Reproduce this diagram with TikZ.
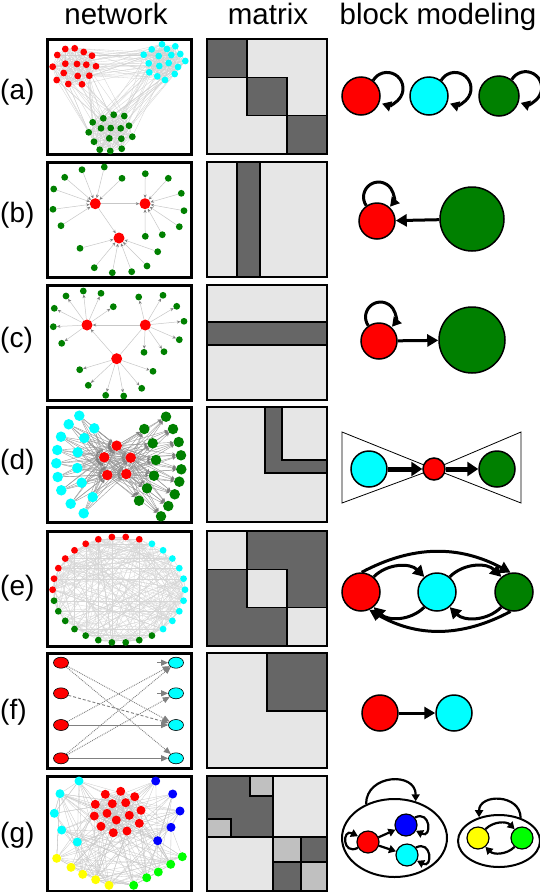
\documentclass[tikz,border=0pt]{standalone}
\usepackage{fontspec}
\setmainfont{Liberation Sans}
\usetikzlibrary{arrows.meta,shapes.geometric}
\definecolor{nred}{RGB}{255,0,0}
\definecolor{ncyan}{RGB}{0,255,255}
\definecolor{ngreen}{RGB}{0,128,0}
\definecolor{nblue}{RGB}{0,0,255}
\definecolor{nyellow}{RGB}{255,255,0}
\definecolor{nlime}{RGB}{0,255,0}
\definecolor{mdark}{RGB}{102,102,102}
\definecolor{mlight}{RGB}{230,230,230}
\definecolor{mmid}{RGB}{192,192,192}
\pgfdeclarelayer{back}
\pgfdeclarelayer{bg}
\pgfsetlayers{back,bg,main}
\newcommand\myrandedges[6]{%
  \foreach \k in {1,...,#1}{%
    \pgfmathrandominteger{\rpa}{1}{#3}%
    \pgfmathrandominteger{\rpb}{1}{#5}%
    \ifnum\rpa=\rpb\relax\else\draw[#6] (#2\rpa) -- (#4\rpb);\fi}}
\newcommand\myallpairs[3]{%
  \foreach \ia in {1,...,#2}{\foreach \ib in {1,...,#2}{%
    \ifnum\ia<\ib\relax\draw[#3] (#1\ia) -- (#1\ib);\fi}}}
\begin{document}
\begin{tikzpicture}[x=1pt,y=1pt,
  hdr/.style={font=\fontsize{29.5}{32}\selectfont, anchor=base, inner sep=0},
  rowlab/.style={font=\fontsize{28}{30}\selectfont, anchor=base west, inner sep=0},
  panel/.style={draw=black, line width=3pt},
  mborder/.style={draw=black, line width=1.5pt},
  mcell/.style={draw=black, line width=1.2pt},
  dotA/.style={circle, inner sep=0, minimum size=6.8pt},
  dotB/.style={circle, inner sep=0, minimum size=6.8pt, fill=ngreen},
  dotR/.style={circle, inner sep=0, minimum size=11pt, fill=nred},
  dotD/.style={circle, inner sep=0, minimum size=10.5pt},
  dotG/.style={circle, inner sep=0, minimum size=9pt},
  dotF/.style={ellipse, draw=black, line width=0.6pt, inner sep=0, minimum width=15pt, minimum height=11pt},
  aedge/.style={draw=black!18, line width=0.3pt},
  eedge/.style={draw=black!16, line width=0.3pt},
  gedge/.style={draw=black!22, line width=0.3pt},
  barr/.style={draw=black!22, line width=0.5pt, -{Stealth[length=3.5pt,width=3pt,color=black!50]}},
  darr/.style={draw=black!40, line width=0.4pt, -{Stealth[length=3.5pt,width=3.5pt,color=black!50]}},
  fsolid/.style={draw=black!50, line width=0.9pt, -{Triangle[length=7pt,width=6pt]}},
  fdot/.style={fsolid, densely dotted},
  fdash/.style={fsolid, densely dashed},
  bmn/.style={circle, draw=black, line width=1.5pt, inner sep=0},
  bma/.style={line width=3pt, -{Triangle[length=11pt,width=12pt]}},
  bmloop/.style={line width=3pt, -{Triangle[length=9pt,width=10pt]}},
  bmthick/.style={line width=5pt, -{Triangle[length=11pt,width=14pt]}},
  bmsmall/.style={line width=2.2pt, -{Triangle[length=7pt,width=8pt]}},
  bowtie/.style={draw=black, line width=0.8pt}
]
\useasboundingbox (0,0) rectangle (540,-892);
\begin{pgfonlayer}{back}
\fill[white] (0,0) rectangle (540,-892);
\end{pgfonlayer}
\pgfmathsetseed{11}

% headers and row labels
\node[hdr] (hnet) at (116,-24) {network};
\node[hdr] (hmat) at (268,-24) {matrix};
\node[hdr] (hbm) at (438,-24) {block modeling};
\foreach \l/\yy in {a/99,b/222,c/347,d/469,e/595,f/719,g/842}
  \node[rowlab] (lab\l) at (0,-\yy) {(\l)};

% network panels
\foreach \t in {39,162,285,407,531,653,776}
  \draw[panel] (47,-\t) rectangle (191,-\t-115);

% ---------- (a) network
\foreach \x/\y [count=\i] in {65.3/49,74.7/48.3,83.7/52,92/55.7,57.3/55,52.7/66.7,65.3/63.7,77/64,86.3/64.7,96/66.3,63.7/73,77.7/76,89.3/75.7,56.7/80,68.3/84,82/84.3}
  \node[dotA,fill=nred] (Nar\i) at (\x,-\y) {};
\foreach \x/\y [count=\i] in {162/44.3,175.3/46.3,151.7/49.3,167/49,143.7/54.7,158.7/56,171.3/55,180.3/54,185.3/61,148.7/63.3,159.3/66,168.7/63,178/67,149.3/72.3,157.3/76.3,174.7/74,165/80}
  \node[dotA,fill=ncyan] (Nac\i) at (\x,-\y) {};
\foreach \x/\y [count=\i] in {103.3/118.3,113.7/114.7,124.3/116,92.7/122.3,101/128.3,110.7/128,120.7/128.3,129/125.7,88.7/132.3,109.3/138.3,121.3/138.7,132.3/136.7,94/141.7,99.7/149.7,110.3/151,121.7/148.7}
  \node[dotA,fill=ngreen] (Nag\i) at (\x,-\y) {};
\begin{pgfonlayer}{bg}
\myallpairs{Nar}{16}{aedge}
\myallpairs{Nac}{17}{aedge}
\myallpairs{Nag}{16}{aedge}
\myrandedges{30}{Nar}{16}{Nac}{17}{aedge}
\myrandedges{30}{Nar}{16}{Nag}{16}{aedge}
\myrandedges{30}{Nac}{17}{Nag}{16}{aedge}
\end{pgfonlayer}

% ---------- (b) network
\node[dotR] (Nbr1) at (95.3,-203.7) {};
\node[dotR] (Nbr2) at (145,-203.7) {};
\node[dotR] (Nbr3) at (119,-238) {};
\foreach \x/\y [count=\i] in {82/169.7,104.3/167,64.7/177.3,122/178.3,53.7/189,53/209.3,61/225.7,145.3/173.7,168.3/178.3,181.3/193.3,184/210.7,179.3/226.7,162.3/234.7,145.3/236.3,80/248.3,94.3/267.7,112.3/272.7,131.7/271.7,147/266,157.7/251.7}
  \node[dotB] (Nbg\i) at (\x,-\y) {};
\begin{pgfonlayer}{bg}
\foreach \i in {1,...,7} \draw[barr] (Nbg\i) -- (Nbr1);
\foreach \i in {8,...,14} \draw[barr] (Nbg\i) -- (Nbr2);
\foreach \i in {15,...,20} \draw[barr] (Nbg\i) -- (Nbr3);
\draw[barr] (Nbr1) -- (Nbr2);
\draw[barr] (Nbr1) -- (Nbr3);
\end{pgfonlayer}

% ---------- (c) network
\node[dotR] (Ncr1) at (87,-325) {};
\node[dotR] (Ncr2) at (145.3,-325) {};
\node[dotR] (Ncr3) at (116.7,-358.7) {};
\foreach \x/\y [count=\i] in {66/296,83.3/291,101/293.3,113.3/306.7,54.3/308.3,53.3/326.7,61.7/343.3,138.7/297,163/295.3,176.7/306.3,184/321.3,179.3/339.7,164/351.7,144/352.3,79.7/369.7,88.3/385.3,105.7/395.3,123.7/396,141.7/388.3,153/371.3}
  \node[dotB] (Ncg\i) at (\x,-\y) {};
\begin{pgfonlayer}{bg}
\foreach \i in {1,...,7} \draw[barr] (Ncr1) -- (Ncg\i);
\foreach \i in {8,...,14} \draw[barr] (Ncr2) -- (Ncg\i);
\foreach \i in {15,...,20} \draw[barr] (Ncr3) -- (Ncg\i);
\draw[barr] (Ncr2) -- (Ncr1);
\draw[barr] (Ncr3) -- (Ncr1);
\draw[aedge, draw=black!22, line width=0.5pt] (Ncr3) -- (Ncr2);
\end{pgfonlayer}

% ---------- (d) network
\foreach \x/\y [count=\i] in {79.3/415.7,68.7/424.3,94.3/428.3,61/436.7,84.3/438,57.3/450,77.7/452.3,56.3/463.3,77.3/468,57.7/477,81.7/482.7,61.3/490.3,92.7/497,70.7/503.7,83.7/513.3}
  \node[dotD,fill=ncyan] (Ndc\i) at (\x,-\y) {};
\foreach \x/\y [count=\i] in {116.7/445.7,104.3/457.3,130.7/457.7,107.3/475,126.3/474}
  \node[dotD,fill=nred] (Ndr\i) at (\x,-\y) {};
\foreach \x/\y [count=\i] in {166/416.7,144.3/429,173/429,152.7/443.3,178.7/442,156/460,181/455.3,181.3/469.3,154/475.7,179.3/481.7,147/488.3,174.7/494.3,139/500.7,168.3/506,161/516.3}
  \node[dotD,fill=ngreen] (Ndg\i) at (\x,-\y) {};
\begin{pgfonlayer}{bg}
\foreach \i in {1,...,15}{\foreach \j in {1,...,5}{\draw[darr] (Ndc\i) -- (Ndr\j);}}
\foreach \i in {1,...,15}{\foreach \j in {1,...,5}{\draw[darr] (Ndr\j) -- (Ndg\i);}}
\end{pgfonlayer}

% ---------- (e) network
\foreach \k in {1,...,10}
  \node[dotA,fill=nred] (Ne\k) at ({118.8+66.2*cos(192-12*\k)},{-589.7+53*sin(192-12*\k)}) {};
\foreach \k in {11,...,20}
  \node[dotA,fill=ncyan] (Ne\k) at ({118.8+66.2*cos(192-12*\k)},{-589.7+53*sin(192-12*\k)}) {};
\foreach \k in {21,...,30}
  \node[dotA,fill=ngreen] (Ne\k) at ({118.8+66.2*cos(192-12*\k)},{-589.7+53*sin(192-12*\k)}) {};
\begin{pgfonlayer}{bg}
\myrandedges{260}{Ne}{30}{Ne}{30}{eedge}
\end{pgfonlayer}

% ---------- (f) network
\foreach \y [count=\i] in {662.7,693.3,725,758.3}
  \node[dotF,fill=nred] (Nfr\i) at (61,-\y) {};
\foreach \y [count=\i] in {662.7,693.3,725,758.3}
  \node[dotF,fill=ncyan] (Nfc\i) at (176,-\y) {};
\coordinate (Nfs1) at (157,-662.7);
\coordinate (Nfs2) at (157,-693.3);
\begin{pgfonlayer}{bg}
\draw[fdot] (Nfr1) -- (Nfc3);
\draw[fdot] (Nfr1) -- (Nfc4);
\draw[fdash] (Nfr2) -- (Nfc3);
\draw[fsolid] (Nfr3) -- (Nfc3);
\draw[fdot] (Nfr3) -- (Nfc1);
\draw[fsolid] (Nfr4) -- (Nfc4);
\draw[fdot] (Nfr4) -- (Nfc1);
\draw[fdot] (Nfr4) -- (Nfc2);
\draw[fsolid] (Nfs1) -- (Nfc1);
\draw[fsolid] (Nfs2) -- (Nfc2);
\end{pgfonlayer}

% ---------- (g) network
\foreach \x/\y [count=\i] in {79/781,60/793.7,54.3/813.3,61.7/830,77.3/842}
  \node[dotG,fill=ncyan] (Ngc\i) at (\x,-\y) {};
\foreach \x/\y [count=\i] in {155.7/781,172.7/794,180/811,171/827.3,157.7/840.7}
  \node[dotG,fill=nblue] (Ngb\i) at (\x,-\y) {};
\foreach \x/\y [count=\i] in {120.7/791.3,105.3/794.3,134.7/796.7,95.3/804.3,112.3/803.7,125.7/802.7,141/810.3,94.3/816,107/813.3,129.3/815.3,116.3/820,139.3/823.3,101/826.3,113.3/832.7,127/831}
  \node[dotG,fill=nred] (Ngr\i) at (\x,-\y) {};
\foreach \x/\y [count=\i] in {56.7/858.3,71/867.3,82.7/874.3,95.7/879.7,109/885.3}
  \node[dotG,fill=nyellow] (Ngy\i) at (\x,-\y) {};
\foreach \x/\y [count=\i] in {182.3/856.7,170.7/864.3,158.3/872,146.7/877.7,133.7/885.3}
  \node[dotG,fill=nlime] (Ngl\i) at (\x,-\y) {};
\begin{pgfonlayer}{bg}
\myallpairs{Ngr}{15}{gedge}
\myrandedges{20}{Ngr}{15}{Ngc}{5}{gedge}
\myrandedges{20}{Ngr}{15}{Ngb}{5}{gedge}
\myrandedges{22}{Ngr}{15}{Ngy}{5}{gedge}
\myrandedges{22}{Ngr}{15}{Ngl}{5}{gedge}
\myrandedges{12}{Ngc}{5}{Ngy}{5}{gedge}
\myrandedges{12}{Ngb}{5}{Ngl}{5}{gedge}
\myrandedges{22}{Ngy}{5}{Ngl}{5}{gedge}
\myrandedges{8}{Ngc}{5}{Ngb}{5}{gedge}
\myrandedges{10}{Ngc}{5}{Ngl}{5}{gedge}
\myrandedges{10}{Ngb}{5}{Ngy}{5}{gedge}
\myrandedges{6}{Ngc}{5}{Ngc}{5}{gedge}
\myrandedges{6}{Ngb}{5}{Ngb}{5}{gedge}
\myrandedges{6}{Ngy}{5}{Ngy}{5}{gedge}
\myrandedges{6}{Ngl}{5}{Ngl}{5}{gedge}
\end{pgfonlayer}

% ---------- matrices
% (a)
\fill[mlight] (207,-39) rectangle (327,-154);
\draw[mcell,fill=mdark] (207,-39) rectangle (247,-77.3);
\draw[mcell,fill=mdark] (247,-77.3) rectangle (287,-115.7);
\draw[mcell,fill=mdark] (287,-115.7) rectangle (327,-154);
\draw[mborder] (207,-39) rectangle (327,-154);
% (b)
\fill[mlight] (207,-162) rectangle (327,-277);
\draw[mcell,fill=mdark] (237,-162) rectangle (260,-277);
\draw[mborder] (207,-162) rectangle (327,-277);
% (c)
\fill[mlight] (207,-285) rectangle (327,-400);
\draw[mcell,fill=mdark] (207,-322) rectangle (327,-345);
\draw[mborder] (207,-285) rectangle (327,-400);
% (d)
\fill[mlight] (207,-407) rectangle (327,-522);
\draw[mcell,fill=mdark] (265,-407) -- (282,-407) -- (282,-460) -- (327,-460) -- (327,-473) -- (265,-473) -- cycle;
\draw[mborder] (207,-407) rectangle (327,-522);
% (e)
\fill[mdark] (207,-531) rectangle (327,-646);
\draw[mcell,fill=mlight] (207,-531) rectangle (247,-569.3);
\draw[mcell,fill=mlight] (247,-569.3) rectangle (287,-607.7);
\draw[mcell,fill=mlight] (287,-607.7) rectangle (327,-646);
\draw[mborder] (207,-531) rectangle (327,-646);
% (f)
\fill[mlight] (207,-653) rectangle (327,-768);
\draw[mcell,fill=mdark] (267,-653) rectangle (327,-711);
\draw[mborder] (207,-653) rectangle (327,-768);
% (g)
\draw[mcell,fill=mdark] (207,-776) rectangle (273,-837);
\draw[mcell,fill=mmid] (250,-776) rectangle (273,-796);
\draw[mcell,fill=mmid] (207,-819) rectangle (231,-837);
\draw[mcell,fill=mlight] (273,-776) rectangle (327,-837);
\draw[mcell,fill=mlight] (207,-837) rectangle (273,-891);
\draw[mcell,fill=mmid] (273,-837) rectangle (301,-862);
\draw[mcell,fill=mdark] (301,-837) rectangle (327,-862);
\draw[mcell,fill=mdark] (273,-862) rectangle (301,-891);
\draw[mcell,fill=mmid] (301,-862) rectangle (327,-891);
\draw[mborder] (207,-776) rectangle (327,-891);

% ---------- block modeling
% (a)
\node[bmn,fill=nred,minimum size=38pt] (Bar) at (361,-96) {};
\node[bmn,fill=ncyan,minimum size=38pt] (Bac) at (429,-96) {};
\node[bmn,fill=ngreen,minimum size=40pt] (Bag) at (499,-96) {};
\foreach \n in {Bar,Bac,Bag}
  \draw[bmloop] (\n.52) arc[start angle=150,end angle=-108,radius=16];
% (b)
\node[bmn,fill=nred,minimum size=36pt] (Bbr) at (377,-221) {};
\node[bmn,fill=ngreen,minimum size=64pt] (Bbg) at (472,-219) {};
\draw[bma] (Bbg) -- (Bbr);
\draw[bmloop] (Bbr.125) arc[start angle=215,end angle=-40,radius=15];
% (c)
\node[bmn,fill=nred,minimum size=36pt] (Bcr) at (379,-341) {};
\node[bmn,fill=ngreen,minimum size=66pt] (Bcg) at (472,-340) {};
\draw[bma] (Bcr) -- (Bcg);
\draw[bmloop] (Bcr.125) arc[start angle=215,end angle=-40,radius=15];
% (d)
\coordinate (Bdapex) at (434,-469);
\draw[bowtie] (342,-432) -- (342,-503) -- (Bdapex) -- cycle;
\draw[bowtie] (521,-432) -- (521,-503) -- (Bdapex) -- cycle;
\node[bmn,fill=ncyan,minimum size=36pt] (Bdc) at (369,-469) {};
\node[bmn,fill=nred,minimum size=22pt] (Bdr) at (434,-469) {};
\node[bmn,fill=ngreen,minimum size=36pt] (Bdg) at (497,-469) {};
\draw[bmthick] (Bdc) -- (Bdr);
\draw[bmthick] (Bdr) -- (Bdg);
% (e)
\node[bmn,fill=nred,minimum size=38pt] (Ber) at (361,-592) {};
\node[bmn,fill=ncyan,minimum size=38pt] (Bec) at (437,-592) {};
\node[bmn,fill=ngreen,minimum size=38pt] (Beg) at (514,-592) {};
\draw[bma] (Ber.50) to[out=45,in=135] (Bec.130);
\draw[bma] (Bec.-130) to[out=-135,in=-45] (Ber.-50);
\draw[bma] (Bec.50) to[out=45,in=135] (Beg.130);
\draw[bma] (Beg.-130) to[out=-135,in=-45] (Bec.-50);
\draw[bma] (Ber.88) to[out=28,in=152] (Beg.100);
\draw[bma] (Beg.-100) to[out=-152,in=-30] (Ber.-65);
% (f)
\node[bmn,fill=nred,minimum size=36pt] (Bfr) at (380,-713) {};
\node[bmn,fill=ncyan,minimum size=36pt] (Bfc) at (454,-713) {};
\draw[bma] (Bfr) -- (Bfc);
% (g)
\node[ellipse,draw=black,line width=2pt,minimum width=105pt,minimum height=78pt,inner sep=0] (Bgl) at (394.5,-838) {};
\node[ellipse,draw=black,line width=2pt,minimum width=82pt,minimum height=52pt,inner sep=0] (Bgs) at (499,-841) {};
\draw[bmsmall] (Bgl.130) .. controls +(0,30) and +(0,30) .. (Bgl.60);
\draw[bmsmall] (Bgs.47) .. controls +(0,24) and +(0,24) .. (Bgs.130);
\node[bmn,line width=1.2pt,fill=nred,minimum size=22pt] (Bgr) at (368,-842) {};
\node[bmn,line width=1.2pt,fill=nblue,minimum size=22pt] (Bgb) at (406,-825) {};
\node[bmn,line width=1.2pt,fill=ncyan,minimum size=22pt] (Bgc) at (407,-855) {};
\node[bmn,line width=1.2pt,fill=nyellow,minimum size=22pt] (Bgy) at (478,-838) {};
\node[bmn,line width=1.2pt,fill=nlime,minimum size=22pt] (Bgg) at (522,-838) {};
\draw[bmsmall] (Bgr) -- (Bgb);
\draw[bmsmall] (Bgr) -- (Bgc);
\draw[bmsmall] (Bgr.-150) .. controls +(-16,-8) and +(-16,8) .. (Bgr.150);
\draw[bmsmall] (Bgb.40) .. controls +(16,8) and +(16,-8) .. (Bgb.-30);
\draw[bmsmall] (Bgc.40) .. controls +(16,8) and +(16,-8) .. (Bgc.-30);
\draw[bmsmall] (Bgy.50) to[out=45,in=135] (Bgg.130);
\draw[bmsmall] (Bgg.-130) to[out=-135,in=-45] (Bgy.-50);
\end{tikzpicture}
\end{document}
